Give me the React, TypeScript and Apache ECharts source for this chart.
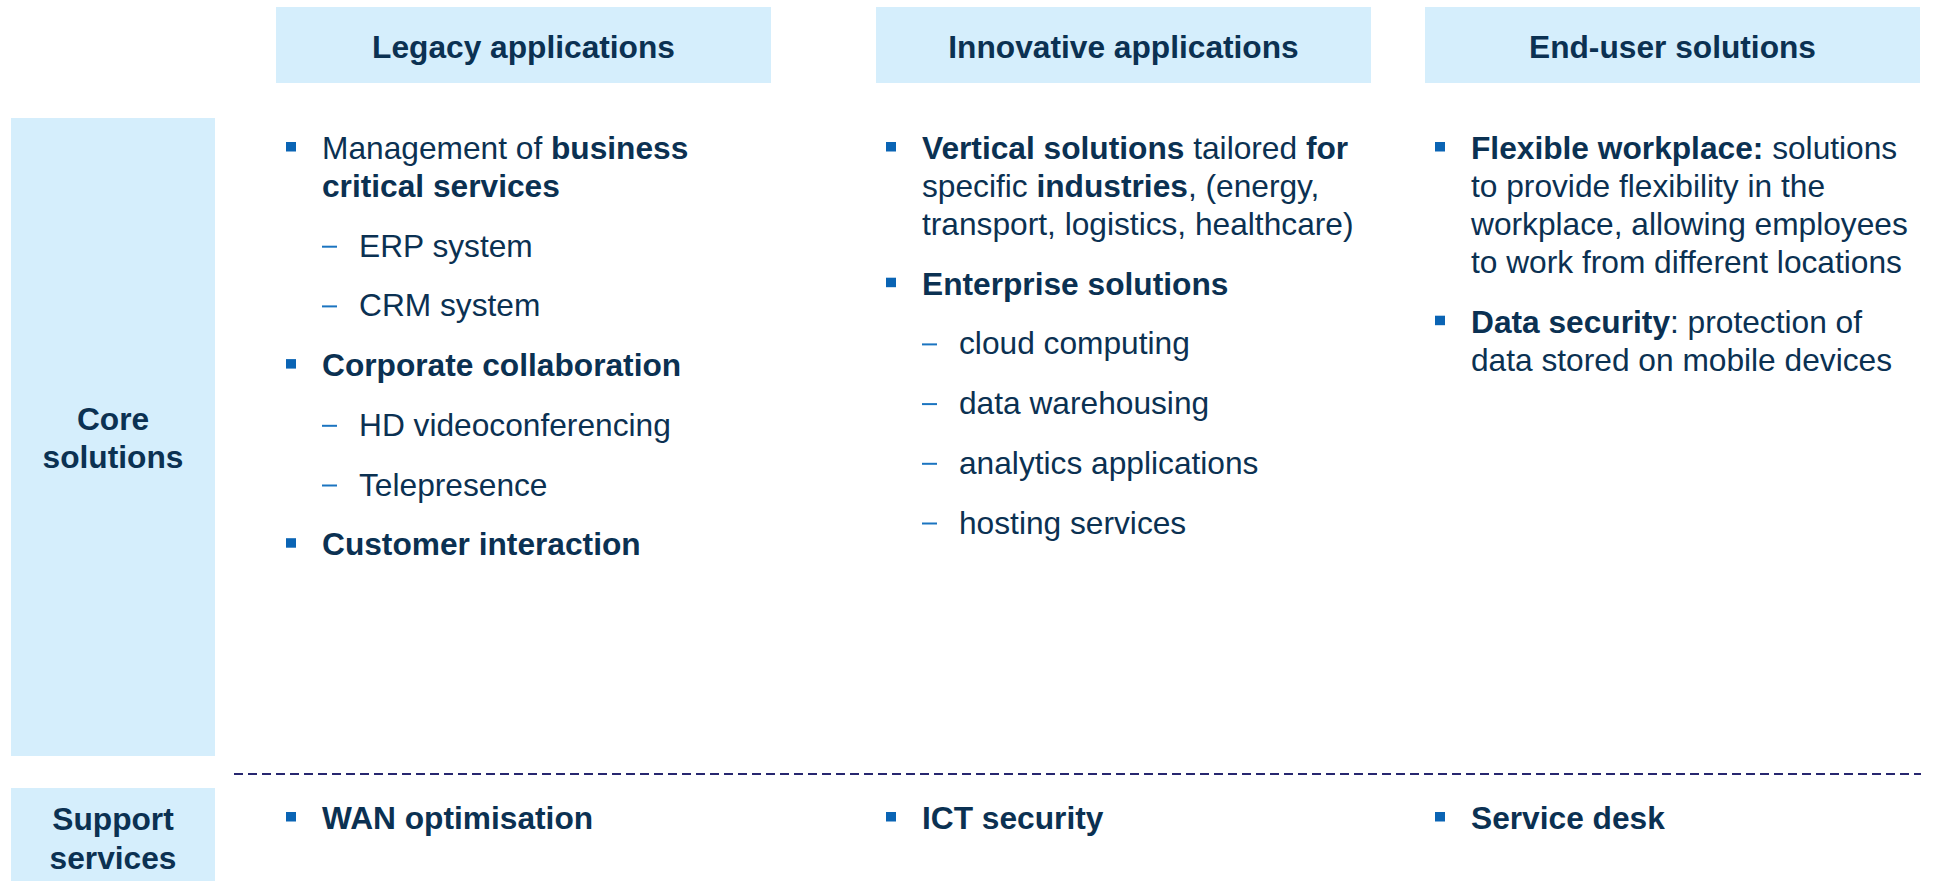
import React, { useEffect, useRef } from "react";
import * as echarts from "echarts";

// ---------- Content ----------
const columnHeaders = ["Legacy applications", "Innovative applications", "End-user solutions"];
const rowHeaders = [["Core", "solutions"], ["Support", "services"]];

type Item = { level: 1 | 2; lines: string[] };

const legacyItems: Item[] = [
  { level: 1, lines: ["Management of {b|business}", "{b|critical services}"] },
  { level: 2, lines: ["ERP system"] },
  { level: 2, lines: ["CRM system"] },
  { level: 1, lines: ["{b|Corporate collaboration}"] },
  { level: 2, lines: ["HD videoconferencing"] },
  { level: 2, lines: ["Telepresence"] },
  { level: 1, lines: ["{b|Customer interaction}"] },
];

const innovativeItems: Item[] = [
  {
    level: 1,
    lines: [
      "{b|Vertical solutions} tailored {b|for}",
      "specific {b|industries}, (energy,",
      "transport, logistics, healthcare)",
    ],
  },
  { level: 1, lines: ["{b|Enterprise solutions}"] },
  { level: 2, lines: ["cloud computing"] },
  { level: 2, lines: ["data warehousing"] },
  { level: 2, lines: ["analytics applications"] },
  { level: 2, lines: ["hosting services"] },
];

const endUserItems: Item[] = [
  {
    level: 1,
    lines: [
      "{b|Flexible workplace:} solutions",
      "to provide flexibility in the",
      "workplace, allowing employees",
      "to work from different locations",
    ],
  },
  { level: 1, lines: ["{b|Data security}: protection of", "data stored on mobile devices"] },
];

const supportItems = ["WAN optimisation", "ICT security", "Service desk"];

const columnItems = [legacyItems, innovativeItems, endUserItems];

// ---------- Style / layout ----------
const FONT = "Arial, 'Liberation Sans', Helvetica, sans-serif";
const FS = 31.7;
const TEXT = "#0b3152";
const BULLET = "#0a64b4";
const DASH = "#1b74c0";
const BOX = "#d5eefc";
const LINE = "#27266f";

const colBoxX = [276, 876, 1425];
const colBoxW = 495;

function richStyle() {
  return {
    b: { fontWeight: "bold", fontSize: FS, fontFamily: FONT, fill: TEXT },
  };
}

function textEl(x: number, y: number, text: string, opts: any = {}) {
  return {
    type: "text",
    x,
    y,
    silent: true,
    style: {
      text,
      fontSize: FS,
      fontFamily: FONT,
      fontWeight: opts.bold ? "bold" : "normal",
      fill: TEXT,
      align: opts.align || "left",
      verticalAlign: "middle",
      rich: richStyle(),
    },
  };
}

function buildElements() {
  const els: any[] = [];

  // column header boxes
  columnHeaders.forEach((h, i) => {
    els.push({
      type: "rect",
      silent: true,
      shape: { x: colBoxX[i], y: 7, width: colBoxW, height: 76 },
      style: { fill: BOX },
    });
    els.push(textEl(colBoxX[i] + colBoxW / 2, 47, h, { bold: true, align: "center" }));
  });

  // row header boxes
  els.push({
    type: "rect",
    silent: true,
    shape: { x: 11, y: 118, width: 204, height: 638 },
    style: { fill: BOX },
  });
  els.push({
    type: "rect",
    silent: true,
    shape: { x: 11, y: 788, width: 204, height: 93 },
    style: { fill: BOX },
  });
  rowHeaders[0].forEach((t, k) => els.push(textEl(113, 419 + k * 38, t, { bold: true, align: "center" })));
  rowHeaders[1].forEach((t, k) => els.push(textEl(113, 819 + k * 39, t, { bold: true, align: "center" })));

  // dashed separator
  els.push({
    type: "line",
    silent: true,
    shape: { x1: 234, y1: 774, x2: 1921, y2: 774 },
    style: { stroke: LINE, lineWidth: 2, lineDash: [9, 5] },
  });

  // column items
  const WRAP = 38;
  const GAP = 59.7;
  columnItems.forEach((items, ci) => {
    const bx = colBoxX[ci];
    let y = 148;
    items.forEach((it, ii) => {
      if (ii > 0) y += GAP;
      it.lines.forEach((ln, li) => {
        if (li > 0) y += WRAP;
        if (li === 0) {
          if (it.level === 1) {
            els.push({
              type: "rect",
              silent: true,
              shape: { x: bx + 10, y: y - 6, width: 10, height: 9.5 },
              style: { fill: BULLET },
            });
          } else {
            els.push({
              type: "rect",
              silent: true,
              shape: { x: bx + 46, y: y, width: 15, height: 2 },
              style: { fill: DASH },
            });
          }
        }
        const tx = it.level === 1 ? bx + 46 : bx + 83;
        els.push(textEl(tx, y, ln));
      });
    });
  });

  // support items
  supportItems.forEach((s, i) => {
    const bx = colBoxX[i];
    const y = 818;
    els.push({
      type: "rect",
      silent: true,
      shape: { x: bx + 10, y: y - 6, width: 10, height: 9.5 },
      style: { fill: BULLET },
    });
    els.push(textEl(bx + 46, y, s, { bold: true }));
  });

  return els;
}

export default function App() {
  const ref = useRef<HTMLDivElement>(null);
  useEffect(() => {
    if (!ref.current) return;
    const chart = echarts.init(ref.current, undefined, { renderer: "svg" });
    chart.setOption({
      animation: false,
      backgroundColor: "#ffffff",
      graphic: { elements: buildElements() },
    });
    return () => chart.dispose();
  }, []);
  return (
    <div
      ref={ref}
      style={{ position: "absolute", left: 0, top: 0, width: 1937, height: 881 }}
    />
  );
}
